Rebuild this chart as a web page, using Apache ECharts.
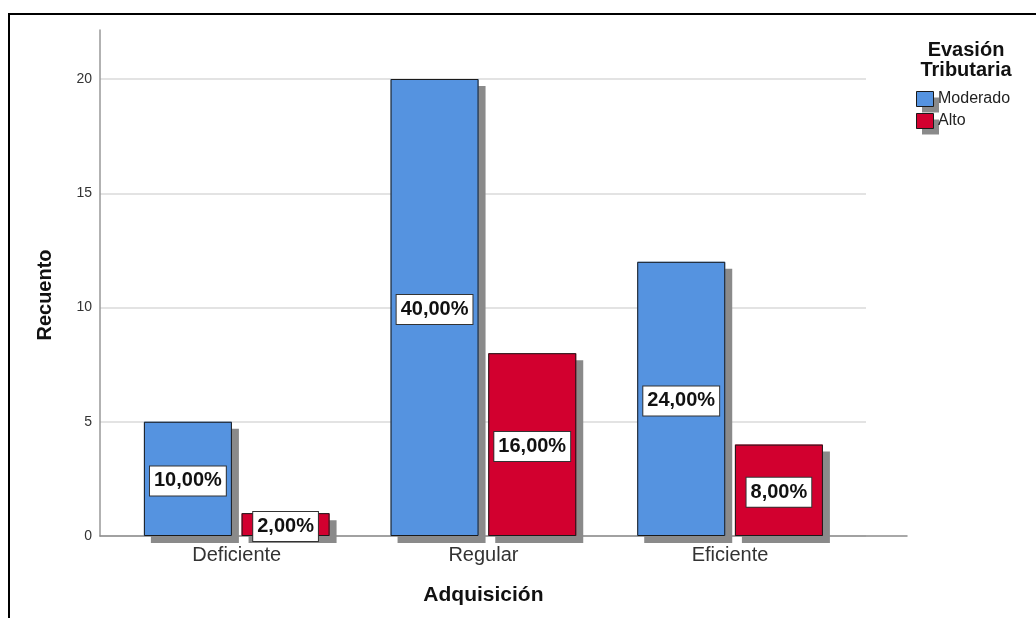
<!DOCTYPE html>
<html>
<head>
<meta charset="utf-8">
<script src="https://cdn.jsdelivr.net/npm/echarts@6/dist/echarts.min.js"></script>
<style>
  html, body { margin: 0; padding: 0; background: #fff; }
  #chart { width: 1036px; height: 618px; }
</style>
</head>
<body>
<div id="chart"></div>
<script>
// Recuento por nivel de Adquisición y Evasión Tributaria
const categories = ['Deficiente', 'Regular', 'Eficiente'];
const seriesNames = ['Moderado', 'Alto'];
const moderado = [5, 20, 12];
const alto = [1, 8, 4];
const yTicks = [0, 5, 10, 15, 20];

const total = moderado.concat(alto).reduce((a, b) => a + b, 0);
const pct = v => (v / total * 100).toFixed(2).replace('.', ',') + '%';

const FONT = '"Liberation Sans", Arial, sans-serif';
const colors = ['#5593e0', '#d2002f'];
const SHADOW = '#8a8a8a';
const EDGE = '#1a1a1a';

const barLabel = {
  show: true,
  position: 'inside',
  offset: [0, 2],
  formatter: p => pct(p.value),
  backgroundColor: '#ffffff',
  borderColor: '#333333',
  borderWidth: 1,
  padding: [4, 4],
  fontFamily: FONT,
  fontSize: 20,
  lineHeight: 21,
  fontWeight: 'bold',
  color: '#111111'
};

// filled bars carry the drop shadow; outlines are drawn on a twin grid on top
function fillSeries(i, data) {
  return {
    name: seriesNames[i], type: 'bar', xAxisIndex: 2, yAxisIndex: 2,
    data: data, barWidth: 88, barGap: '11%',
    itemStyle: {
      color: colors[i], borderWidth: 0,
      shadowColor: SHADOW, shadowBlur: 0, shadowOffsetX: 7, shadowOffsetY: 7
    },
    emphasis: { disabled: true }
  };
}
function outlineSeries(i, data) {
  return {
    name: seriesNames[i], type: 'bar', xAxisIndex: 3, yAxisIndex: 3, z: 3,
    data: data, barWidth: 88, barGap: '11%',
    itemStyle: { color: 'rgba(0,0,0,0)', borderColor: EDGE, borderWidth: 1 },
    label: barLabel,
    emphasis: { disabled: true }
  };
}

const barGrid = { left: 113.4, right: 182.6, top: 79, bottom: 82 };
const legendBase = {
  data: seriesNames,
  orient: 'vertical',
  left: 916,
  top: 91,
  padding: 0,
  itemWidth: 17,
  itemHeight: 15,
  itemGap: 6,
  icon: 'rect',
  selectedMode: false,
  textStyle: { fontFamily: FONT, fontSize: 16, color: '#222222' }
};

const chart = echarts.init(document.getElementById('chart'), null, { renderer: 'canvas' });

chart.setOption({
  animation: false,
  backgroundColor: '#ffffff',
  textStyle: { fontFamily: FONT },
  grid: [
    // axis lines
    { left: 100, right: 129, top: 30, bottom: 82 },
    // value gridlines and tick labels
    { left: 100, right: 170, top: 79, bottom: 82 },
    // bars
    Object.assign({}, barGrid),
    // bar outlines and labels
    Object.assign({}, barGrid)
  ],
  xAxis: [
    {
      gridIndex: 0, type: 'value', min: 0, max: 1, z: 1,
      axisLine: { show: true, lineStyle: { color: '#8c8c8c', width: 1.5 } },
      axisTick: { show: false }, axisLabel: { show: false }, splitLine: { show: false }
    },
    { gridIndex: 1, type: 'value', min: 0, max: 1, show: false },
    {
      gridIndex: 2, type: 'category', data: categories,
      axisLine: { show: false }, axisTick: { show: false },
      axisLabel: { fontFamily: FONT, fontSize: 20, color: '#333333', margin: 9 },
      name: 'Adquisición', nameLocation: 'middle', nameGap: 49,
      nameTextStyle: { fontFamily: FONT, fontSize: 21, fontWeight: 'bold', color: '#111111' }
    },
    { gridIndex: 3, type: 'category', data: categories, show: false }
  ],
  yAxis: [
    {
      gridIndex: 0, type: 'value', min: 0, max: 1, z: 1,
      axisLine: { show: true, lineStyle: { color: '#999999', width: 1.5 } },
      axisTick: { show: false }, axisLabel: { show: false }, splitLine: { show: false }
    },
    {
      gridIndex: 1, type: 'value', min: yTicks[0], max: yTicks[yTicks.length - 1], interval: 5,
      axisLine: { show: false }, axisTick: { show: false },
      axisLabel: { fontFamily: FONT, fontSize: 14, color: '#333333', margin: 8 },
      splitLine: { show: true, lineStyle: { color: '#dadada', width: 1.5 } }
    },
    { gridIndex: 2, type: 'value', min: yTicks[0], max: yTicks[yTicks.length - 1], show: false },
    { gridIndex: 3, type: 'value', min: yTicks[0], max: yTicks[yTicks.length - 1], show: false }
  ],
  legend: [
    // swatches with drop shadow
    Object.assign({}, legendBase, {
      itemStyle: { borderWidth: 0, shadowColor: SHADOW, shadowBlur: 0, shadowOffsetX: 6, shadowOffsetY: 6 }
    }),
    // swatch outlines only
    Object.assign({}, legendBase, {
      z: 5,
      formatter: () => '',
      itemStyle: {
        color: 'rgba(0,0,0,0)', borderColor: EDGE, borderWidth: 1,
        shadowColor: 'rgba(0,0,0,0)', shadowBlur: 0, shadowOffsetX: 0, shadowOffsetY: 0
      }
    })
  ],
  graphic: [
    {
      type: 'rect', silent: true, z: -1,
      shape: { x: 9, y: 14, width: 1200, height: 800 },
      style: { fill: 'none', stroke: '#000000', lineWidth: 2 }
    },
    {
      type: 'text', silent: true, x: 966, y: 60,
      style: {
        text: 'Evasión\nTributaria', align: 'center', verticalAlign: 'middle',
        fontFamily: FONT, fontSize: 20, fontWeight: 'bold', lineHeight: 20, fill: '#111111'
      }
    },
    {
      type: 'text', silent: true, x: 45, y: 295, rotation: Math.PI / 2,
      style: {
        text: 'Recuento', align: 'center', verticalAlign: 'middle',
        fontFamily: FONT, fontSize: 20, fontWeight: 'bold', fill: '#111111'
      }
    }
  ],
  series: [
    fillSeries(0, moderado),
    fillSeries(1, alto),
    outlineSeries(0, moderado),
    outlineSeries(1, alto)
  ]
});
</script>
</body>
</html>
